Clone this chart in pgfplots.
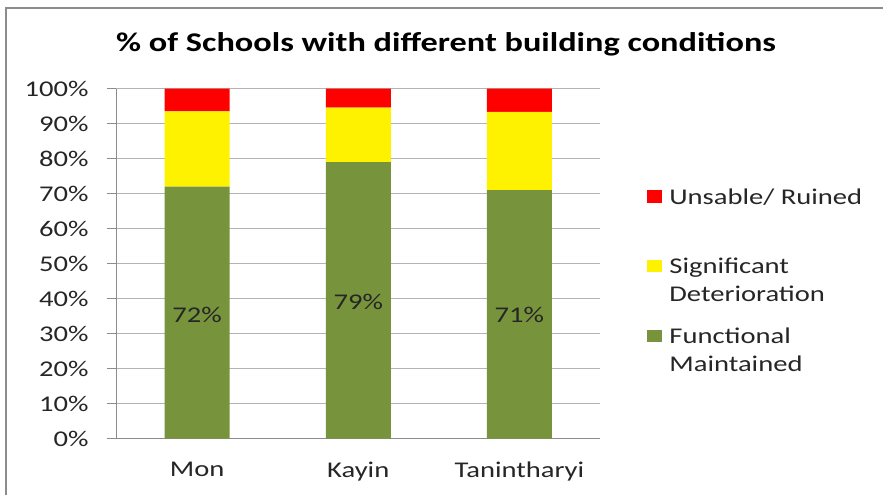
\documentclass[border=0pt]{standalone}
\usepackage{fontspec}
\setmainfont{Carlito}[FakeStretch=1.27]
\usepackage{pgfplots}
\pgfplotsset{compat=1.18}
\definecolor{cgreen}{HTML}{77933C}
\definecolor{cgrid}{HTML}{B3B3B3}
\definecolor{caxis}{HTML}{8C8C8C}
\definecolor{ctext}{HTML}{262626}
\begin{document}
\begin{tikzpicture}
\useasboundingbox (-58.25pt,-28.15pt) rectangle (383.25pt,219.35pt);
\draw[caxis, line width=1pt] (-55.25pt,-28.15pt) -- (-55.25pt,215.35pt) -- (383.25pt,215.35pt);
\begin{axis}[
  at={(0pt,0pt)}, anchor=south west,
  scale only axis, width=241.75pt, height=175pt,
  ybar stacked, bar width=32.5pt,
  xmin=-0.5, xmax=2.5, ymin=0, ymax=100,
  xtick={0,1,2}, xticklabels={Mon,Kayin,Tanintharyi},
  ytick={0,10,...,100},
  yticklabel={\pgfmathprintnumber{\tick}\%},
  /pgf/number format/assume math mode=true,
  ymajorgrids, grid style={cgrid, line width=0.75pt},
  axis x line*=bottom, axis y line*=left,
  axis line style={caxis, line width=0.75pt, -},
  tick align=outside, major tick length=4.5pt,
  xtick style={draw=none}, ytick style={caxis, line width=0.75pt},
  tick label style={font=\fontsize{11.25pt}{13.5pt}\selectfont, text=ctext},
  yticklabel style={xshift=-6pt},
  xticklabel style={yshift=-3.5pt},
  title={\% of Schools with different building conditions},
  title style={at={(0.6815,1.0935)}, anchor=center, font=\fontsize{13.5pt}{16pt}\selectfont\bfseries},
  reverse legend,
  legend image code/.code={\fill[#1] (0pt,0.8pt) rectangle (7.5pt,7pt);},
  legend style={at={(1.0972,0.7267)}, anchor=north west, draw=none, fill=none, inner sep=0pt,
    font=\fontsize{11.25pt}{13.75pt}\selectfont, text=ctext, row sep=21.5pt,
    cells={anchor=base west},
    /tikz/every odd column/.append style={column sep=1.5pt}},
]
\addplot[fill=cgreen, draw=none] coordinates {(0,72) (1,79) (2,71)};
\addlegendentry{\vtop{\hbox{Functional}\hbox{Maintained}}}
\addplot[fill=yellow, draw=none] coordinates {(0,21.5) (1,15.6) (2,22.4)};
\addlegendentry{\vtop{\hbox{Significant}\hbox{Deterioration}}}
\addplot[fill=red, draw=none] coordinates {(0,6.5) (1,5.4) (2,6.6)};
\addlegendentry{\vtop{\hbox{Unsable/ Ruined}\hbox{}}}
\end{axis}
\begin{axis}[
  at={(0pt,0pt)}, anchor=south west,
  scale only axis, width=241.75pt, height=175pt,
  xmin=-0.5, xmax=2.5, ymin=0, ymax=100, hide axis,
]
\addplot[draw=none, mark=none, nodes near coords, point meta=explicit symbolic,
  nodes near coords style={anchor=center, font=\fontsize{11.25pt}{13.5pt}\selectfont, text=ctext}]
  coordinates {(0,35.5) [72\%] (1,39) [79\%] (2,35.3) [71\%]};
\end{axis}
\end{tikzpicture}
\end{document}
